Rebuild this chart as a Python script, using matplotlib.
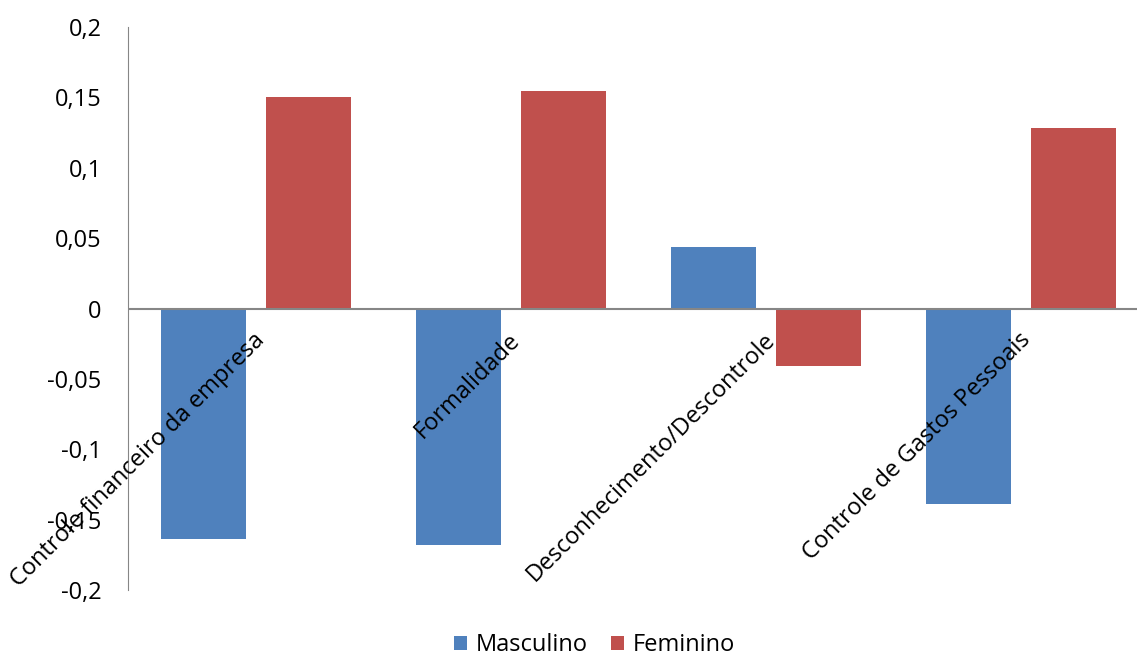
import matplotlib.pyplot as plt
import numpy as np

plt.rcParams['font.family'] = ['Open Sans', 'DejaVu Sans']

categorias = ["Controle financeiro da empresa", "Formalidade",
              "Desconhecimento/Descontrole", "Controle de Gastos Pessoais"]
masculino = [-0.164, -0.168, 0.044, -0.139]
feminino = [0.150, 0.1545, -0.041, 0.128]
yticks = [-0.2, -0.15, -0.1, -0.05, 0, 0.05, 0.1, 0.15, 0.2]

azul = "#4F81BD"
vermelho = "#C0504D"

fig = plt.figure(figsize=(11.37, 6.55), dpi=100)
ax = fig.add_axes([0.1126, 0.0992, 0.898, 0.8596])

x = np.arange(len(categorias))
w = 0.333
ax.bar(x - 0.2056, masculino, w, color=azul, label="Masculino")
ax.bar(x + 0.2056, feminino, w, color=vermelho, label="Feminino")

ax.set_xlim(-0.5, len(categorias) - 0.5)
ax.set_ylim(-0.2, 0.2)
ax.set_yticks(yticks)
ax.set_yticklabels([("%g" % v).replace('.', ',') for v in yticks], fontsize=17)
ax.tick_params(axis='y', length=0, pad=19)
ax.set_xticks([])

for s in ['top', 'right', 'bottom']:
    ax.spines[s].set_visible(False)
ax.spines['left'].set_color('#868686')
ax.axhline(0, color='#868686', lw=1.5, zorder=3)

# rotulos das categorias a 45 graus, presos na linha do zero
for i, nome in enumerate(categorias):
    ax.text(i - 0.01, -0.014, nome, rotation=45, ha='right', va='top',
            rotation_mode='anchor', fontsize=17)

fig.legend(loc='center', bbox_to_anchor=(0.523, 0.015), ncol=2, frameon=False,
           fontsize=17, handlelength=0.55, handleheight=0.55, handletextpad=0.35,
           columnspacing=1.0)

fig.savefig("out.png", dpi=100)
